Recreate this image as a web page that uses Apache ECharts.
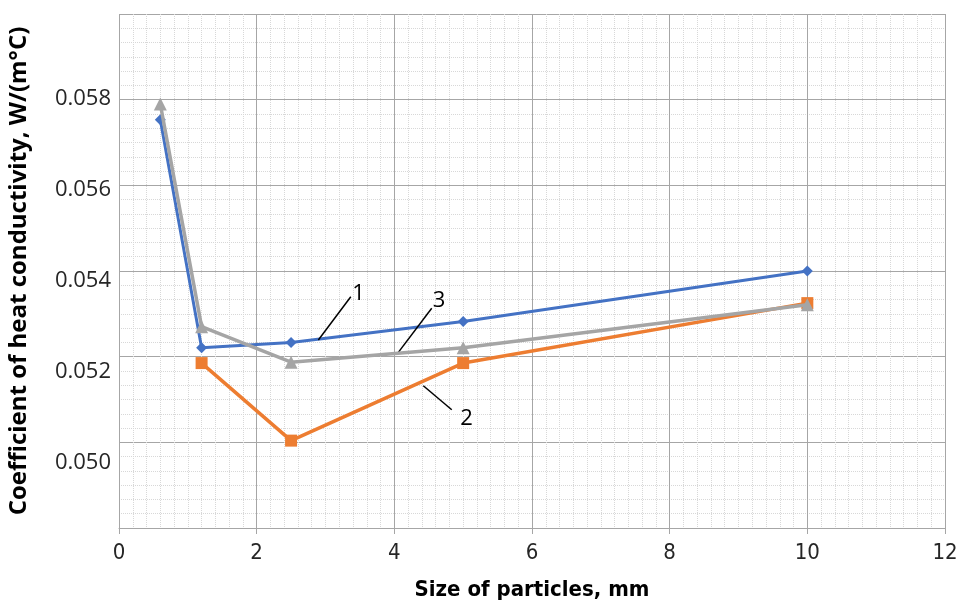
<!DOCTYPE html>
<html>
<head>
<meta charset="utf-8">
<script src="https://cdn.jsdelivr.net/npm/echarts@6/dist/echarts.min.js"></script>
<style>
  html, body { margin: 0; padding: 0; background: #fff; }
  #chart { width: 963px; height: 602px; }
</style>
</head>
<body>
<div id="chart"></div>
<script>
// particle sizes, mm
const sizes1 = [0.6, 1.2, 2.5, 5, 10]
const sizes2 = [1.2, 2.5, 5, 10]
const sizes3 = [0.6, 1.2, 2.5, 5, 10]
// heat conductivity, W/(m°C)
const curve1 = [0.05753, 0.05221, 0.05233, 0.05282, 0.05400]
const curve2 = [0.05185, 0.05004, 0.05185, 0.05325]
const curve3 = [0.0579, 0.05270, 0.05187, 0.05221, 0.05321]
// y tick labels as printed in the source
const yTickLabels = [0.050, 0.052, 0.054, 0.056, 0.058]
// callout leaders: [x1, y1, x2, y2] and the label spots
const calloutLines = [
  [2.896, 0.05239, 3.367, 0.05340],
  [4.058, 0.05210, 4.543, 0.05313],
  [4.421, 0.05132, 4.834, 0.05076],
]
const calloutNames = ['1', '3', '2']
const calloutSpots = [[3.48, 0.05346], [4.65, 0.05330], [5.05, 0.05055]]

const colors = ['#4472C4', '#ED7D31', '#A5A5A5']
const narrow = '"DejaVu Sans Condensed", "Liberation Sans Narrow", "Arial Narrow", sans-serif'
const pair = (xs, ys) => xs.map((x, i) => [x, ys[i]])

let myChart = echarts.init(document.getElementById('chart'))
myChart.setOption({
  animation: false,
  grid: { left: 119, right: 18, top: 14, bottom: 74, outerBoundsMode: 'none' },
  xAxis: {
    type: 'value',
    min: 0,
    max: 12,
    interval: 2,
    name: 'Size of particles, mm',
    nameLocation: 'middle',
    nameGap: 51,
    nameTextStyle: {
      fontFamily: narrow,
      fontWeight: 'bold',
      fontSize: 22,
      color: '#000',
    },
    axisLine: { lineStyle: { color: '#a6a6a6', width: 1 } },
    axisTick: { show: true, length: 6, lineStyle: { color: '#a6a6a6' } },
    axisLabel: {
      margin: 14,
      fontFamily: narrow,
      fontSize: 22,
      color: '#262626',
    },
    splitLine: { show: true, lineStyle: { color: '#a6a6a6', width: 1 } },
    minorTick: { show: false, splitNumber: 10 },
    minorSplitLine: { show: true, lineStyle: { color: '#d8d8d8', type: 'dotted', width: 1 } },
  },
  yAxis: [
    {
      type: 'value',
      min: 0.048,
      max: 0.060,
      interval: 0.002,
      axisLine: { show: false },
      axisTick: { show: false },
      axisLabel: { show: false },
      splitLine: { show: true, lineStyle: { color: '#a6a6a6', width: 1 } },
      minorTick: { show: false, splitNumber: 6 },
      minorSplitLine: { show: true, lineStyle: { color: '#d8d8d8', type: 'dotted', width: 1 } },
    },
    {
      // label-only axis, printed labels sit a bit off the gridlines in the source
      type: 'value',
      position: 'left',
      min: 0.048571,
      max: 0.059868,
      name: 'Coefficient of heat conductivity, W/(m°C)',
      nameLocation: 'middle',
      nameGap: 88,
      nameTextStyle: {
        fontFamily: '"Open Sans", sans-serif',
        fontWeight: 'bold',
        fontSize: 24,
        color: '#000',
      },
      axisLine: { show: false },
      axisTick: { show: false },
      splitLine: { show: false },
      axisLabel: {
        customValues: yTickLabels,
        margin: 8,
        fontFamily: '"Open Sans", sans-serif',
        fontSize: 22,
        color: '#262626',
        formatter: (v) => v.toFixed(3),
      },
    },
  ],
  series: [
    {
      name: '1',
      type: 'line',
      data: pair(sizes1, curve1),
      color: colors[0],
      symbol: 'diamond',
      symbolSize: 11,
      lineStyle: { width: 3, color: colors[0] },
      itemStyle: { color: colors[0] },
      z: 3,
    },
    {
      name: '2',
      type: 'line',
      data: pair(sizes2, curve2),
      color: colors[1],
      symbol: 'rect',
      symbolSize: 12,
      lineStyle: { width: 3.5, color: colors[1] },
      itemStyle: { color: colors[1] },
      z: 4,
    },
    {
      name: '3',
      type: 'line',
      data: pair(sizes3, curve3),
      color: colors[2],
      symbol: 'triangle',
      symbolSize: 13,
      lineStyle: { width: 3.5, color: colors[2] },
      itemStyle: { color: colors[2] },
      z: 5,
    },
    {
      name: 'callouts',
      type: 'line',
      data: [],
      z: 6,
      markLine: {
        silent: true,
        symbol: ['none', 'none'],
        label: { show: false },
        lineStyle: { color: '#000', width: 1.5, type: 'solid' },
        data: calloutLines.map((c) => [{ coord: [c[0], c[1]] }, { coord: [c[2], c[3]] }]),
      },
      markPoint: {
        silent: true,
        symbol: 'circle',
        symbolSize: 0,
        label: {
          show: true,
          position: 'inside',
          fontFamily: '"Open Sans", sans-serif',
          fontSize: 22,
          color: '#000',
          formatter: (p) => p.name,
        },
        data: calloutSpots.map((s, i) => ({ name: calloutNames[i], coord: s })),
      },
    },
  ],
})
</script>
</body>
</html>
